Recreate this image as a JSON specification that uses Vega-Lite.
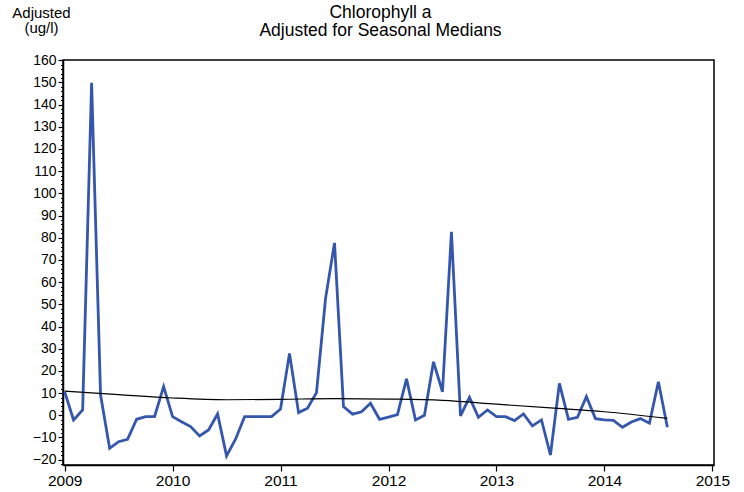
{
  "$schema": "https://vega.github.io/schema/vega-lite/v6.json",
  "width": 651,
  "height": 405,
  "autosize": "none",
  "padding": {"left": 63, "top": 60, "right": 30, "bottom": 27},
  "background": "white",
  "config": {
    "font": "Liberation Sans",
    "view": {"stroke": "black", "strokeWidth": 1.5},
    "axis": {"grid": false, "labelColor": "black", "tickColor": "black", "domainColor": "black", "titleColor": "black", "labelFont": "Liberation Sans", "titleFont": "Liberation Sans"}
  },
  "title": {
    "text": ["Chlorophyll a", "Adjusted for Seasonal Medians"],
    "anchor": "middle",
    "fontSize": 17.5,
    "fontWeight": "normal",
    "font": "Liberation Sans",
    "color": "black",
    "lineHeight": 18,
    "baseline": "alphabetic",
    "offset": -48,
    "dx": -8
  },
  "datasets": {
    "obs": [
      {"t": 2009.000, "v": 10.6}, {"t": 2009.083, "v": -2.1}, {"t": 2009.167, "v": 2.4}, {"t": 2009.250, "v": 149.8},
      {"t": 2009.333, "v": 9.1}, {"t": 2009.417, "v": -14.9}, {"t": 2009.500, "v": -11.9}, {"t": 2009.583, "v": -10.8},
      {"t": 2009.667, "v": -1.8}, {"t": 2009.750, "v": -0.6}, {"t": 2009.833, "v": -0.6}, {"t": 2009.917, "v": 12.9},
      {"t": 2010.000, "v": -0.6}, {"t": 2010.083, "v": -2.9}, {"t": 2010.167, "v": -5.1}, {"t": 2010.250, "v": -9.3},
      {"t": 2010.333, "v": -6.6}, {"t": 2010.417, "v": 0.6}, {"t": 2010.500, "v": -18.3}, {"t": 2010.583, "v": -10.8},
      {"t": 2010.667, "v": -0.6}, {"t": 2010.750, "v": -0.6}, {"t": 2010.833, "v": -0.6}, {"t": 2010.917, "v": -0.6},
      {"t": 2011.000, "v": 2.8}, {"t": 2011.083, "v": 27.9}, {"t": 2011.167, "v": 1.2}, {"t": 2011.250, "v": 3.2},
      {"t": 2011.333, "v": 10.2}, {"t": 2011.417, "v": 52.7}, {"t": 2011.500, "v": 77.7}, {"t": 2011.583, "v": 3.9},
      {"t": 2011.667, "v": 0.5}, {"t": 2011.750, "v": 1.6}, {"t": 2011.833, "v": 5.4}, {"t": 2011.917, "v": -1.8},
      {"t": 2012.000, "v": -0.8}, {"t": 2012.083, "v": 0.3}, {"t": 2012.167, "v": 16.4}, {"t": 2012.250, "v": -2.1},
      {"t": 2012.333, "v": 0.0}, {"t": 2012.417, "v": 24.1}, {"t": 2012.500, "v": 10.6}, {"t": 2012.583, "v": 82.7},
      {"t": 2012.667, "v": -0.3}, {"t": 2012.750, "v": 8.1}, {"t": 2012.833, "v": -0.9}, {"t": 2012.917, "v": 2.4},
      {"t": 2013.000, "v": -0.6}, {"t": 2013.083, "v": -0.6}, {"t": 2013.167, "v": -2.4}, {"t": 2013.250, "v": 0.6},
      {"t": 2013.333, "v": -4.8}, {"t": 2013.417, "v": -2.1}, {"t": 2013.500, "v": -17.9}, {"t": 2013.583, "v": 14.4},
      {"t": 2013.667, "v": -1.8}, {"t": 2013.750, "v": -0.9}, {"t": 2013.833, "v": 8.4}, {"t": 2013.917, "v": -1.5},
      {"t": 2014.000, "v": -2.1}, {"t": 2014.083, "v": -2.3}, {"t": 2014.167, "v": -5.4}, {"t": 2014.250, "v": -3.0},
      {"t": 2014.333, "v": -1.5}, {"t": 2014.417, "v": -3.6}, {"t": 2014.500, "v": 15.1}, {"t": 2014.583, "v": -5.4}
    ],
    "trend": [
      {"t": 2009.0, "v": 10.9}, {"t": 2009.5, "v": 9.3}, {"t": 2010.0, "v": 7.8}, {"t": 2010.5, "v": 7.0},
      {"t": 2011.0, "v": 7.2}, {"t": 2011.5, "v": 7.5}, {"t": 2012.0, "v": 7.3}, {"t": 2012.5, "v": 6.7},
      {"t": 2013.0, "v": 5.0}, {"t": 2013.5, "v": 3.3}, {"t": 2014.0, "v": 1.6}, {"t": 2014.583, "v": -1.4}
    ]
  },
  "layer": [
    {
      "data": {"name": "obs"},
      "mark": {"type": "line", "color": "#3456AC", "strokeWidth": 2.8, "strokeJoin": "miter"},
      "encoding": {
        "x": {
          "field": "t", "type": "quantitative",
          "scale": {"domain": [2008.985, 2015.015], "nice": false, "zero": false},
          "axis": {"title": null, "values": [2009, 2010, 2011, 2012, 2013, 2014, 2015], "format": "d", "labelFontSize": 15.5, "tickSize": 6, "labelPadding": 2, "domainWidth": 1.5, "tickWidth": 1.2}
        },
        "y": {
          "field": "v", "type": "quantitative",
          "scale": {"domain": [-22.4, 160.1], "nice": false, "zero": false},
          "axis": {
            "title": ["Adjusted", "(ug/l)"], "titleAngle": 0, "titleAlign": "center", "titleBaseline": "alphabetic",
            "titleX": -22, "titleY": -43, "titleFontSize": 15, "titleFontWeight": "normal", "titleLineHeight": 15.5,
            "values": [-20, -10, 0, 10, 20, 30, 40, 50, 60, 70, 80, 90, 100, 110, 120, 130, 140, 150, 160],
            "labelFontSize": 14, "tickSize": 5, "labelPadding": 2, "domainWidth": 1.5, "tickWidth": 1.2
          }
        }
      }
    },
    {
      "data": {"name": "trend"},
      "mark": {"type": "line", "color": "black", "strokeWidth": 1.2, "interpolate": "monotone"},
      "encoding": {
        "x": {"field": "t", "type": "quantitative"},
        "y": {
          "field": "v", "type": "quantitative",
          "axis": {
            "orient": "left", "title": null, "labels": false, "domain": false, "tickSize": 2.5, "tickWidth": 1,
            "values": [-22, -18, -16, -14, -12, -8, -6, -4, -2, 2, 4, 6, 8, 12, 14, 16, 18, 22, 24, 26, 28, 32, 34, 36, 38, 42, 44, 46, 48, 52, 54, 56, 58, 62, 64, 66, 68, 72, 74, 76, 78, 82, 84, 86, 88, 92, 94, 96, 98, 102, 104, 106, 108, 112, 114, 116, 118, 122, 124, 126, 128, 132, 134, 136, 138, 142, 144, 146, 148, 152, 154, 156, 158]
          }
        }
      }
    }
  ],
  "resolve": {"axis": {"y": "independent"}}
}
